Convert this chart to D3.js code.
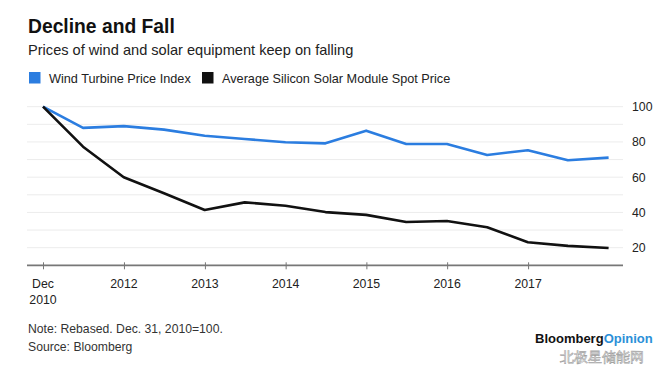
<!DOCTYPE html>
<html>
<head>
<meta charset="utf-8">
<script src="https://cdn.jsdelivr.net/npm/d3@7"></script>
<style>
  html, body { margin: 0; padding: 0; background: #fff; }
  svg { display: block; }
  text { font-family: "Liberation Sans", Arial, sans-serif; }
</style>
</head>
<body>
<svg id="chart" width="667" height="380"></svg>
<script>
const dates = ["2010-12-31","2011-06-30","2011-12-31","2012-06-30","2012-12-31","2013-06-30","2013-12-31",
  "2014-06-30","2014-12-31","2015-06-30","2015-12-31","2016-06-30","2016-12-31","2017-06-30","2017-12-31"];
const windIndex = [100, 88, 89, 87, 83.5, 81.7, 79.8, 79.2, 86.4, 78.8, 78.8, 72.6, 75.3, 69.6, 71.1];
const solarPrice = [100, 77.3, 60, 50.9, 41.4, 45.7, 43.8, 40.2, 38.6, 34.6, 35.1, 31.6, 23.1, 21, 19.8];
const seriesNames = ["Wind Turbine Price Index", "Average Silicon Solar Module Spot Price"];
const seriesColors = ["#2b7de0", "#111111"];
const xTickDates = ["2010-12-31","2012-01-01","2013-01-01","2014-01-01","2015-01-01","2016-01-01","2017-01-01"];
const xTickLabels = [["Dec","2010"],["2012"],["2013"],["2014"],["2015"],["2016"],["2017"]];
const yTicks = [20, 40, 60, 80, 100];
const yGrid = [20, 30, 40, 50, 60, 70, 80, 90, 100];

const parse = d3.timeParse("%Y-%m-%d");
const svg = d3.select("#chart");

const x = d3.scaleTime()
  .domain([parse("2010-12-31"), parse("2017-12-31")])
  .range([43, 608.6]);
const y = d3.scaleLinear().domain([10, 100]).range([265.3, 106.7]);

// Title & subtitle
svg.append("text").attr("x", 28).attr("y", 33).attr("font-size", 19.3).attr("font-weight", "bold")
  .attr("fill", "#111").text("Decline and Fall");
svg.append("text").attr("x", 28).attr("y", 55).attr("font-size", 14.6).attr("fill", "#222")
  .text("Prices of wind and solar equipment keep on falling");

// Legend
const legendX = [29, 202];
seriesNames.forEach((n, i) => {
  svg.append("rect").attr("x", legendX[i]).attr("y", 72).attr("width", 11.5).attr("height", 11.5)
    .attr("fill", seriesColors[i]);
  svg.append("text").attr("x", legendX[i] + 20).attr("y", 82.5).attr("font-size", 12.7).attr("fill", "#222").text(n);
});

// Grid
svg.append("g").selectAll("line").data(yGrid).join("line")
  .attr("x1", 27).attr("x2", 623).attr("y1", d => y(d)).attr("y2", d => y(d))
  .attr("stroke", "#ececec").attr("stroke-width", 1);

// Y labels
svg.append("g").selectAll("text").data(yTicks).join("text")
  .attr("x", 632).attr("y", d => y(d) + 4.5).attr("font-size", 12.3).attr("fill", "#222").text(d => d);

// X axis
const xAxis = d3.axisBottom(x).tickValues(xTickDates.map(parse)).tickSize(4).tickFormat("");
const gx = svg.append("g").attr("transform", `translate(0,${y(10)})`).call(xAxis);
gx.select(".domain").remove();
gx.selectAll(".tick line").attr("stroke", "#777").attr("y1", -3).attr("y2", 4).attr("stroke-width", 1);
svg.append("line").attr("x1", 27).attr("x2", 623).attr("y1", y(10)).attr("y2", y(10))
  .attr("stroke", "#777").attr("stroke-width", 1.8);

xTickDates.forEach((d, i) => {
  const t = svg.append("text").attr("x", x(parse(d))).attr("y", 288).attr("font-size", 12.3)
    .attr("fill", "#222").attr("text-anchor", "middle");
  xTickLabels[i].forEach((s, j) => {
    t.append("tspan").attr("x", x(parse(d))).attr("dy", j === 0 ? 0 : 16).text(s);
  });
});

// Lines
const line = d3.line().x((d, i) => x(parse(dates[i]))).y(d => y(d));
[windIndex, solarPrice].forEach((s, i) => {
  svg.append("path").datum(s).attr("d", line).attr("fill", "none")
    .attr("stroke", seriesColors[i]).attr("stroke-width", 2.6).attr("stroke-linejoin", "round");
});

// Footer
svg.append("text").attr("x", 28).attr("y", 333).attr("font-size", 12.2).attr("fill", "#333")
  .text("Note: Rebased. Dec. 31, 2010=100.");
svg.append("text").attr("x", 28).attr("y", 351).attr("font-size", 12.2).attr("fill", "#333")
  .text("Source: Bloomberg");

// Logo
const logo = svg.append("text").attr("x", 535).attr("y", 343).attr("font-size", 13).attr("font-weight", "bold");
logo.append("tspan").attr("fill", "#111").text("Bloomberg");
logo.append("tspan").attr("fill", "#2b8fd8").text("Opinion");
svg.append("text").attr("x", 560).attr("y", 362).attr("font-size", 14)
  .attr("font-family", "Noto Sans CJK SC").attr("fill", "#fff").attr("stroke", "#999").attr("stroke-width", 0.6)
  .attr("opacity", 0.9).text("北极星储能网");
</script>
</body>
</html>
